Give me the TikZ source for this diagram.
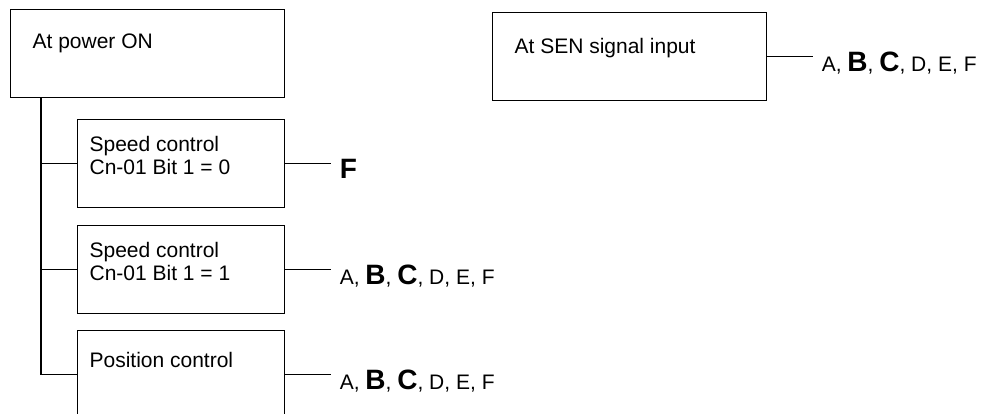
\documentclass[tikz,border=0pt]{standalone}
\usepackage{fontspec}
\setmainfont{Liberation Sans}
\newcommand{\bfbig}[1]{{\fontsize{14}{14}\selectfont\bfseries #1}}
\tikzset{
  box/.style={rectangle,draw,anchor=north west,minimum height=44pt},
  outlbl/.style={anchor=north west,inner sep=0pt,xshift=11pt,yshift=-12pt},
  inlbl/.style={anchor=north west,inner sep=0pt,align=left,xshift=6pt,yshift=-8.5pt},
  res/.style={anchor=base west,inner xsep=4pt,inner ysep=0pt,xshift=23pt,yshift=-7.25pt}
}
\begin{document}
\begin{tikzpicture}[x=0.5pt,y=-0.5pt,line width=0.6pt,font=\fontsize{10.5}{11.5}\selectfont]
\useasboundingbox (0,0) rectangle (981,413);
\clip (0,0) rectangle (981,413);
\node [box,minimum width=137pt,label={[outlbl]north west:At power ON}] (pwr) at (10,9) {};
\node [box,minimum width=137pt,label={[outlbl,yshift=-1pt]north west:At SEN signal input}] (sen) at (492,12) {};
\node [box,minimum width=103.5pt,label={[inlbl]north west:Speed control\\Cn-01 Bit 1 = 0}] (spd0) at (77,119) {};
\node [box,minimum width=103.5pt,label={[inlbl]north west:Speed control\\Cn-01 Bit 1 = 1}] (spd1) at (77,225) {};
\node [box,minimum width=103.5pt,label={[inlbl,yshift=-2.5pt]north west:Position control}] (pos) at (77,330) {};
\coordinate (bus) at ([xshift=15.5pt]pwr.south west);
\draw (bus) |- (spd0.west);
\draw (bus) |- (spd1.west);
\draw (bus) |- (pos.west);
\node [res] (res0) at (spd0.east) {\bfbig{F}};
\node [res] (res1) at (spd1.east) {A, \bfbig{B}, \bfbig{C}, D, E, F};
\node [res] (res2) at (pos.east) {A, \bfbig{B}, \bfbig{C}, D, E, F};
\node [res] (res3) at (sen.east) {A, \bfbig{B}, \bfbig{C}, D, E, F};
\draw (spd0.east) -- (spd0.east -| res0.west);
\draw (spd1.east) -- (spd1.east -| res1.west);
\draw (pos.east) -- (pos.east -| res2.west);
\draw (sen.east) -- (sen.east -| res3.west);
\end{tikzpicture}
\end{document}
